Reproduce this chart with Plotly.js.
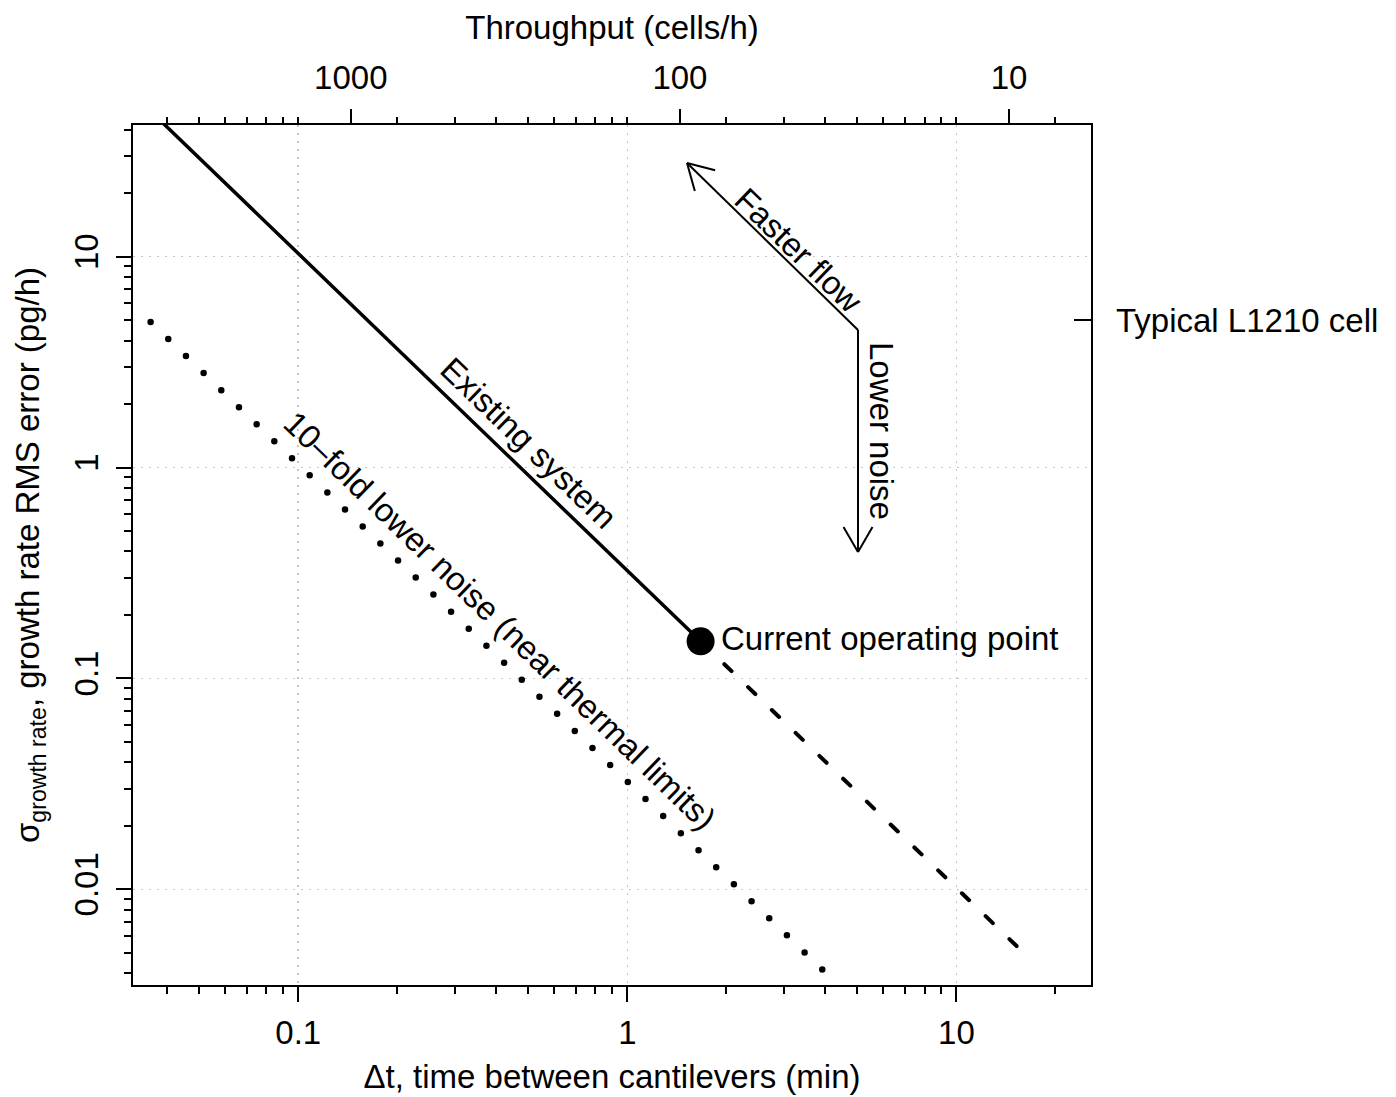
<!DOCTYPE html>
<html>
<head>
<meta charset="utf-8">
<script src="https://cdn.plot.ly/plotly-3.0.1.min.js"></script>
<style>
  html, body { margin: 0; padding: 0; background: #ffffff; }
  #chart { width: 1396px; height: 1097px; }
</style>
</head>
<body>
<div id="chart"></div>
<script>
// End points (Δt in min, σ in pg/h) of each straight line on the log–log plot
const existingDt = [0.0356, 1.67];
const existingSigma = [49, 0.15];
const extrapolatedDt = [1.67, 16.0];
const extrapolatedSigma = [0.15, 0.005];
const thermalDt = [0.0356, 4.02];
const thermalSigma = [4.9, 0.0040];
const operatingDt = [1.67];
const operatingSigma = [0.15];

// Tick positions and labels
const dtTickVals = [0.1, 1, 10];
const dtTickText = ['0.1', '1', '10'];
const sigmaTickVals = [0.01, 0.1, 1, 10];
const sigmaTickText = ['0.01', '0.1', '1', '10'];
const throughputTickVals = [1000, 100, 10];
const throughputTickText = ['1000', '100', '10'];
const cellTickVals = [5];
const cellTickText = ['Typical L1210 cell'];

// throughput (cells/h) = throughputFactor / Δt (min)
const throughputFactor = 144.5;

// ---- geometry of the plotting area (pixels) ----
const W = 1396, H = 1097;
const box = { l: 133, r: 1091, t: 125, b: 985 };
const px = x => (x - box.l) / (box.r - box.l);
const py = y => (box.b - y) / (box.b - box.t);

const dtRange = [-1.502, 1.409];
const sigmaRange = [-2.454, 1.6245];
const lf = Math.log10(throughputFactor);
const throughputRange = [lf - dtRange[0], lf - dtRange[1]];

const FONT = 'Liberation Sans, Arial, Helvetica, sans-serif';
const FS = 33;

const hidden = { mode: 'markers', marker: { opacity: 0, size: 1 }, hoverinfo: 'skip', showlegend: false };

const traces = [
  { x: existingDt, y: existingSigma, mode: 'lines', line: { color: '#000', width: 3.5 },
    hoverinfo: 'skip', showlegend: false },
  { x: extrapolatedDt, y: extrapolatedSigma, mode: 'lines',
    line: { color: '#000', width: 4, dash: '10px,23px' }, hoverinfo: 'skip', showlegend: false },
  { x: thermalDt, y: thermalSigma, mode: 'lines',
    line: { color: '#000', width: 6.5, dash: '0px,24.55px' }, hoverinfo: 'skip', showlegend: false },
  { x: operatingDt, y: operatingSigma, mode: 'markers',
    marker: { color: '#000', size: 28 }, hoverinfo: 'skip', showlegend: false },
  // carriers that attach the secondary axes (throughput on top, Δt minor ticks, cell marker)
  Object.assign({ x: operatingDt.map(d => throughputFactor / d), y: operatingSigma, xaxis: 'x2', yaxis: 'y' }, hidden),
  Object.assign({ x: operatingDt, y: operatingSigma, xaxis: 'x3', yaxis: 'y' }, hidden),
  Object.assign({ x: operatingDt, y: cellTickVals, xaxis: 'x', yaxis: 'y2' }, hidden)
];

// open "V" arrows drawn in pixel space
function arrowShapes(from, to, headLen, headAng) {
  const lineStyle = { color: '#000', width: 2 };
  const shapes = [{ type: 'line', xref: 'paper', yref: 'paper', layer: 'above',
    x0: px(from[0]), y0: py(from[1]), x1: px(to[0]), y1: py(to[1]), line: lineStyle }];
  const ang = Math.atan2(from[1] - to[1], from[0] - to[0]);
  [-1, 1].forEach(s => {
    const a = ang + s * headAng * Math.PI / 180;
    const ex = to[0] + headLen * Math.cos(a), ey = to[1] + headLen * Math.sin(a);
    shapes.push({ type: 'line', xref: 'paper', yref: 'paper', layer: 'above',
      x0: px(to[0]), y0: py(to[1]), x1: px(ex), y1: py(ey), line: lineStyle });
  });
  return shapes;
}
const corner = [858, 330];
const shapes = [].concat(
  arrowShapes(corner, [687, 163], 29, 30),
  arrowShapes(corner, [858, 552], 29, 30)
);

function label(text, cx, cy, angle, extra) {
  return Object.assign({ text: text, xref: 'paper', yref: 'paper', x: px(cx), y: py(cy),
    xanchor: 'center', yanchor: 'middle', textangle: angle, showarrow: false,
    font: { family: FONT, size: FS, color: '#000' } }, extra || {});
}
const annotations = [
  label('Existing system', 528, 443, 44),
  label('10\u2013fold lower noise (near thermal limits)', 500, 620, 44),
  label('Faster flow', 799, 250, 44),
  label('Lower noise', 882, 431, 90),
  label('Current operating point', 719, 638, 0, { xanchor: 'left' })
];

const axisCommon = {
  type: 'log', color: '#000', tickcolor: '#000', tickwidth: 2,
  tickfont: { family: FONT, size: FS, color: '#000' }, zeroline: false
};

const layout = {
  width: W, height: H, autosize: false,
  margin: { l: box.l, r: W - box.r, t: box.t, b: H - box.b, pad: 0 },
  paper_bgcolor: '#fff', plot_bgcolor: '#fff',
  font: { family: FONT, size: FS, color: '#000' },
  showlegend: false,
  xaxis: Object.assign({}, axisCommon, {
    range: dtRange, tickmode: 'array', tickvals: dtTickVals, ticktext: dtTickText,
    ticks: 'outside', ticklen: 15, ticklabelstandoff: 2, showline: true, linewidth: 2, linecolor: '#000', mirror: true,
    showgrid: true, gridcolor: '#c4c4c4', gridwidth: 1.5, griddash: '2px,6px',
    minor: { dtick: 'D1', ticks: 'outside', ticklen: 7, tickwidth: 2, tickcolor: '#000', showgrid: false },
    title: { text: '\u0394t, time between cantilevers (min)', font: { family: FONT, size: FS }, standoff: 15 }
  }),
  xaxis2: Object.assign({}, axisCommon, {
    overlaying: 'x', side: 'top', anchor: 'y',
    range: throughputRange, tickmode: 'array', tickvals: throughputTickVals, ticktext: throughputTickText,
    ticks: 'outside', ticklen: 15, ticklabelstandoff: 7, showline: false, showgrid: false,
    title: { text: 'Throughput (cells/h)', font: { family: FONT, size: FS }, standoff: 9 }
  }),
  xaxis3: Object.assign({}, axisCommon, {
    overlaying: 'x', side: 'top', anchor: 'y',
    range: dtRange, dtick: 'D1', ticks: 'outside', ticklen: 7,
    showticklabels: false, showline: false, showgrid: false
  }),
  yaxis: Object.assign({}, axisCommon, {
    range: sigmaRange, tickmode: 'array', tickvals: sigmaTickVals, ticktext: sigmaTickText,
    tickangle: -90, ticks: 'outside', ticklen: 15, ticklabelstandoff: 5,
    showline: true, linewidth: 2, linecolor: '#000', mirror: true,
    showgrid: true, gridcolor: '#c4c4c4', gridwidth: 1.5, griddash: '2px,6px',
    minor: { dtick: 'D1', ticks: 'outside', ticklen: 7, tickwidth: 2, tickcolor: '#000', showgrid: false },
    title: { text: '\u03c3<sub>growth rate</sub>, growth rate RMS error (pg/h)', font: { family: FONT, size: FS }, standoff: 18 }
  }),
  yaxis2: Object.assign({}, axisCommon, {
    overlaying: 'y', side: 'right', anchor: 'x',
    range: sigmaRange, tickmode: 'array', tickvals: cellTickVals, ticktext: cellTickText,
    ticks: 'inside', ticklen: 17, ticklabelstandoff: 24, showline: false, showgrid: false
  }),
  shapes: shapes,
  annotations: annotations
};

Plotly.newPlot('chart', traces, layout, { staticPlot: true }).then(gd => {
  // round caps so that the dotted line draws as round dots
  gd.querySelectorAll('.scatterlayer .js-line').forEach(p => {
    p.style.strokeLinecap = 'round';
  });
});
</script>
</body>
</html>
